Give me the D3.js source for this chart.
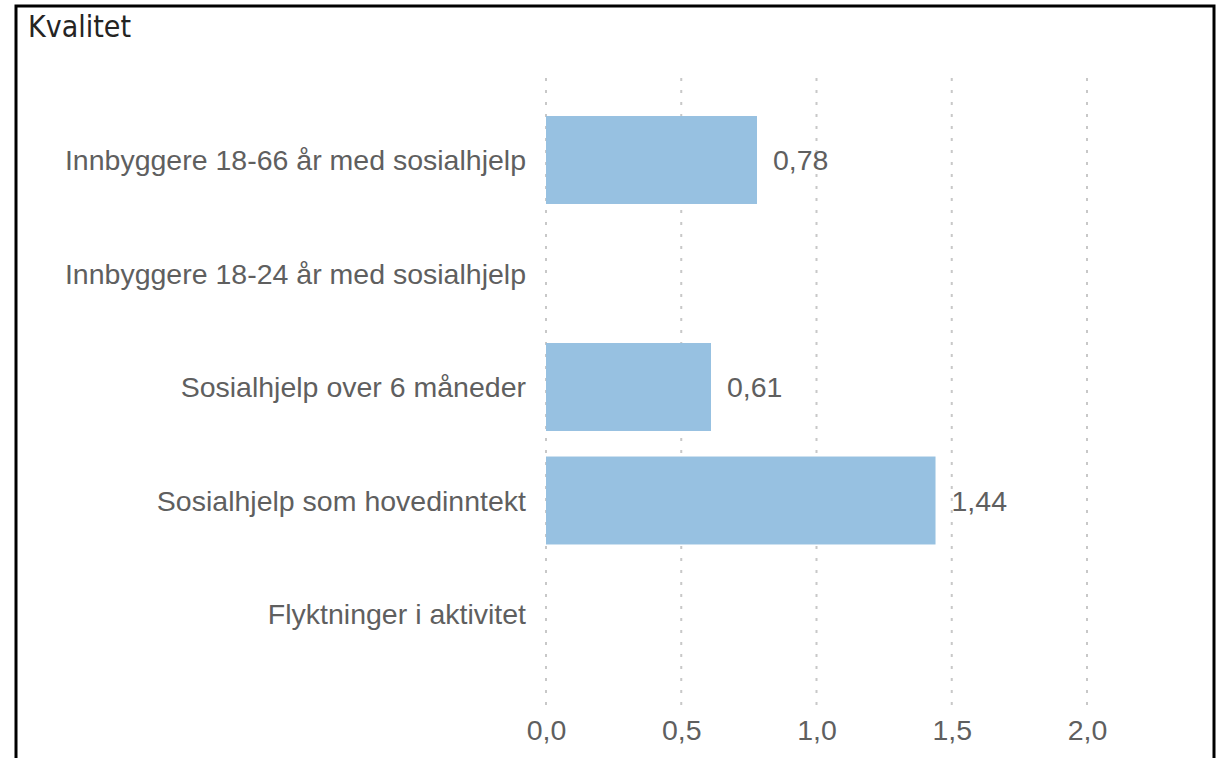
<!DOCTYPE html>
<html>
<head>
<meta charset="utf-8">
<script src="https://cdn.jsdelivr.net/npm/d3@7"></script>
<style>
  body { margin: 0; background: #fff; }
  svg { display: block; }
</style>
</head>
<body>
<div id="chart"></div>
<script>
// chart data
var categories = [
    "Innbyggere 18-66 år med sosialhjelp",
    "Innbyggere 18-24 år med sosialhjelp",
    "Sosialhjelp over 6 måneder",
    "Sosialhjelp som hovedinntekt",
    "Flyktninger i aktivitet"
];
var values = [0.78, null, 0.61, 1.44, null];
var tickValues = [0, 0.5, 1.0, 1.5, 2.0];
var title = "Kvalitet";

var svgWidth = 1226;
var svgHeight = 758;
var labelFont = "'Liberation Sans', Arial, sans-serif";
var labelColor = "#5f5f5f";

var fmt = function(v, digits) {
    return v.toFixed(digits).replace(".", ",");
};

var svg = d3.select("#chart")
    .append("svg")
    .attr("width", svgWidth)
    .attr("height", svgHeight);

// frame (bottom edge runs off the picture)
svg.append("path")
    .attr("d", "M16,760 L16,6 L1214,6 L1214,760")
    .attr("fill", "none")
    .attr("stroke", "#000")
    .attr("stroke-width", 3);

svg.append("text")
    .attr("x", 28)
    .attr("y", 37)
    .attr("font-family", "'DejaVu Sans Condensed', sans-serif")
    .attr("font-size", 30)
    .attr("fill", "#252423")
    .text(title);

var xScale = d3.scaleLinear()
    .domain([0, 2])
    .range([546, 1087]);

var yScale = d3.scaleBand()
    .domain(categories)
    .range([103.25, 670.75])
    .paddingInner(0.225)
    .paddingOuter(0.1125);

// dotted vertical gridlines
svg.append("g")
    .selectAll("line")
    .data(tickValues)
    .enter()
    .append("line")
    .attr("x1", d => xScale(d))
    .attr("x2", d => xScale(d))
    .attr("y1", 78)
    .attr("y2", 706)
    .attr("stroke", "#c8c8c8")
    .attr("stroke-width", 2)
    .attr("stroke-dasharray", "3,9");

// x axis labels
var xAxis = d3.axisBottom(xScale)
    .tickValues(tickValues)
    .tickSize(0)
    .tickPadding(0)
    .tickFormat(d => fmt(d, 1));

svg.append("g")
    .attr("transform", "translate(0,720)")
    .call(xAxis)
    .call(g => g.select(".domain").remove())
    .selectAll("text")
    .attr("font-family", labelFont)
    .attr("font-size", 28.5)
    .attr("fill", labelColor);

// category labels
var yAxis = d3.axisLeft(yScale)
    .tickSize(0)
    .tickPadding(20);

svg.append("g")
    .attr("transform", "translate(546,0)")
    .call(yAxis)
    .call(g => g.select(".domain").remove())
    .selectAll("text")
    .attr("dy", "0.36em")
    .attr("font-family", labelFont)
    .attr("font-size", 28.5)
    .attr("fill", labelColor);

var rows = categories.map((c, i) => ({ cat: c, value: values[i] }))
    .filter(d => d.value !== null);

// bars
svg.append("g")
    .selectAll("rect")
    .data(rows)
    .enter()
    .append("rect")
    .attr("x", xScale(0))
    .attr("y", d => yScale(d.cat))
    .attr("width", d => xScale(d.value) - xScale(0))
    .attr("height", yScale.bandwidth())
    .attr("fill", "#97c1e1");

// value labels
svg.append("g")
    .selectAll("text")
    .data(rows)
    .enter()
    .append("text")
    .attr("x", d => xScale(d.value) + 16)
    .attr("y", d => yScale(d.cat) + yScale.bandwidth() / 2)
    .attr("dy", "0.36em")
    .attr("font-family", labelFont)
    .attr("font-size", 28.5)
    .attr("fill", labelColor)
    .text(d => fmt(d.value, 2));
</script>
</body>
</html>
